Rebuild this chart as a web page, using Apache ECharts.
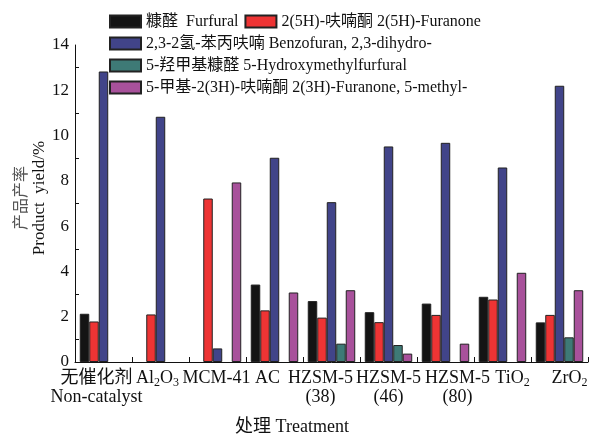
<!DOCTYPE html>
<html>
<head>
<meta charset="utf-8">
<script src="https://cdn.jsdelivr.net/npm/echarts@6/dist/echarts.min.js"></script>
<style>html,body{margin:0;padding:0;background:#fff}#c{width:597px;height:437px}</style>
</head>
<body>
<div id="c"></div>
<script>
const categories = ['无催化剂\nNon-catalyst', 'Al2O3', 'MCM-41', 'AC', 'HZSM-5\n(38)', 'HZSM-5\n(46)', 'HZSM-5\n(80)', 'TiO2', 'ZrO2'];
const seriesNames = ['糠醛  Furfural', '2(5H)-呋喃酮 2(5H)-Furanone', '2,3-2氢-苯丙呋喃 Benzofuran, 2,3-dihydro-', '5-羟甲基糠醛 5-Hydroxymethylfurfural', '5-甲基-2(3H)-呋喃酮 2(3H)-Furanone, 5-methyl-'];
const furfural      = [2.13, null, null, 3.42, 2.69, 2.2, 2.58, 2.88, 1.75];
const furanone25H   = [1.79, 2.1, 7.22, 2.28, 1.96, 1.76, 2.08, 2.76, 2.08];
const benzofuran    = [12.83, 10.83, 0.6, 9.02, 7.06, 9.52, 9.68, 8.59, 12.2];
const hmf           = [null, null, null, null, 0.81, 0.75, null, null, 1.09];
const furanone23H   = [null, null, 7.93, 3.07, 3.17, 0.37, 0.81, 3.94, 3.17];
const yTicks = [0, 2, 4, 6, 8, 10, 12, 14];
const labelOffsets = [-7, -3, -1, -7, -11, 0, 12, 10, 10];

const colors = ['#141414', '#ee3434', '#414489', '#3e7a76', '#a8519b'];
const serif = '"Liberation Serif","Times New Roman","Noto Sans CJK SC",serif';

const rich = { sub: { fontSize: 12, fontFamily: serif, color: '#111', padding: [9, 0, 0, 0] } };
labelOffsets.forEach((o, i) => { rich['s' + i] = { width: Math.abs(2 * o), height: 1 }; });

function fmtLine(line, i) {
  let t = line.replace(/([A-Za-z])([0-9])/g, (m, a, d) => a + '{sub|' + d + '}');
  const sp = labelOffsets[i] !== 0 ? '{s' + i + '|}' : '';
  return labelOffsets[i] < 0 ? t + sp : sp + t;
}

const chart = echarts.init(document.getElementById('c'));
const seriesData = [furfural, furanone25H, benzofuran, hmf, furanone23H];
const legendText = { fontSize: 16, fontFamily: serif, color: '#111' };
chart.setOption({
  animation: false,
  textStyle: { fontFamily: serif },
  grid: { left: 75, right: 9, top: 45, bottom: 75 },
  legend: [
    { data: seriesNames.slice(0, 2), left: 109, top: 13.5, padding: 0, orient: 'horizontal', icon: 'rect',
      itemWidth: 31, itemHeight: 12, itemGap: 6, textStyle: legendText },
    { data: seriesNames.slice(2), left: 109, top: 35.5, padding: 0, orient: 'vertical', icon: 'rect',
      itemWidth: 31, itemHeight: 12, itemGap: 6, textStyle: legendText }
  ],
  xAxis: [
    { type: 'category', data: categories,
      axisLine: { lineStyle: { color: '#111', width: 1 } },
      axisTick: { show: false },
      axisLabel: { fontSize: 18, color: '#111', fontFamily: serif, margin: 7, lineHeight: 19, interval: 0, rich: rich,
        formatter: (v, i) => v.split('\n').map(l => fmtLine(l, i)).join('\n') } },
    { type: 'category', data: Array.from({ length: 18 }, (_, i) => 'h' + i), position: 'bottom',
      axisLine: { show: false }, axisLabel: { show: false },
      axisTick: { show: true, inside: true, length: 5, lineStyle: { color: '#111' } } }
  ],
  yAxis: {
    type: 'value', min: 0, max: 14, interval: 2,
    axisLine: { show: true, lineStyle: { color: '#111', width: 1 } },
    axisTick: { inside: true, length: 6, lineStyle: { color: '#111' } },
    minorTick: { show: true, splitNumber: 2, length: 4, lineStyle: { color: '#111' } },
    splitLine: { show: false },
    axisLabel: { fontSize: 17, color: '#111', fontFamily: serif, margin: 6,
      formatter: v => yTicks.includes(v) ? String(v) : '' }
  },
  graphic: [
    { type: 'text', x: 31, y: 198, rotation: Math.PI / 2,
      style: { text: '{a|产品产率}\n{b|Product  yield/%}', align: 'center', verticalAlign: 'middle',
        rich: { a: { fontSize: 16, fill: '#555', fontFamily: serif, lineHeight: 18 }, b: { fontSize: 17, fill: '#111', fontFamily: serif, lineHeight: 18 } } } },
    { type: 'text', x: 292, y: 427,
      style: { text: '处理 Treatment', fontSize: 18, fill: '#111', fontFamily: serif, align: 'center', verticalAlign: 'middle' } }
  ],
  series: seriesData.map((d, k) => ({
    name: seriesNames[k], type: 'bar', data: d, xAxisIndex: 0,
    barGap: '0%', barCategoryGap: '16.7%',
    itemStyle: { color: colors[k], borderColor: '#222', borderWidth: 1 }
  }))
});
</script>
</body>
</html>
